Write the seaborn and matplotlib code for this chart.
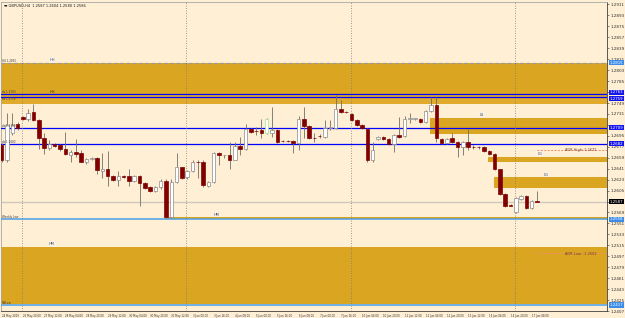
import numpy as np
import matplotlib
matplotlib.use("Agg")
import matplotlib.pyplot as plt
import matplotlib.transforms as mtransforms
from matplotlib.patches import Rectangle
import seaborn as sns

# ---------------- data (GBPUSD, H4) ----------------
opens = [1.26807, 1.26561, 1.27004, 1.27151, 1.27266, 1.27233, 1.27348, 1.27216, 1.26922, 1.26758,
         1.26823, 1.26807, 1.26741, 1.26643, 1.26692, 1.26676, 1.26528, 1.26577, 1.26594, 1.26364,
         1.26397, 1.26282, 1.26217, 1.26282, 1.26282, 1.26200, 1.26282, 1.26168, 1.26102, 1.26036,
         1.26102, 1.26200, 1.25610, 1.26184, 1.26430, 1.26266, 1.26364, 1.26528, 1.26528, 1.26118,
         1.26184, 1.26676, 1.26627, 1.26643, 1.26561, 1.26790, 1.26741, 1.27069, 1.27036, 1.27053,
         1.27004, 1.27004, 1.27053, 1.26872, 1.26872, 1.26872, 1.26840, 1.27233, 1.27118, 1.26922,
         1.26954, 1.26938, 1.27085, 1.27085, 1.27397, 1.27348, 1.27315, 1.27216, 1.27134, 1.27069,
         1.26545, 1.26905, 1.26938, 1.26905, 1.26823, 1.26971, 1.26954, 1.27233, 1.27233, 1.27233,
         1.27184, 1.27364, 1.27463, 1.26905, 1.26840, 1.26922, 1.26856, 1.26774, 1.26856, 1.26774,
         1.26774, 1.26774, 1.26709, 1.26659, 1.26397, 1.25987, 1.25807, 1.25692, 1.25905, 1.25955,
         1.25758, 1.25873]
highs = [1.26840, 1.27331, 1.27331, 1.27184, 1.27282, 1.27397, 1.27479, 1.27233, 1.27004, 1.26889,
         1.26840, 1.26823, 1.27020, 1.26725, 1.26905, 1.26725, 1.26594, 1.26610, 1.26610, 1.26676,
         1.26709, 1.26299, 1.26364, 1.26299, 1.26397, 1.26299, 1.26299, 1.26184, 1.26118, 1.26118,
         1.26233, 1.26233, 1.26233, 1.26676, 1.26446, 1.26381, 1.26545, 1.26561, 1.26561, 1.26200,
         1.26692, 1.26692, 1.26643, 1.26856, 1.26856, 1.26938, 1.27151, 1.27085, 1.27102, 1.27233,
         1.27249, 1.27430, 1.27069, 1.26889, 1.26889, 1.26889, 1.27282, 1.27430, 1.27134, 1.27004,
         1.26987, 1.27216, 1.27216, 1.27626, 1.27544, 1.27364, 1.27331, 1.27233, 1.27151, 1.27085,
         1.26856, 1.26954, 1.26954, 1.26922, 1.26987, 1.27266, 1.27282, 1.27331, 1.27249, 1.27249,
         1.27380, 1.27594, 1.27594, 1.26922, 1.26922, 1.27004, 1.26872, 1.26872, 1.27069, 1.26807,
         1.26790, 1.26790, 1.26725, 1.26676, 1.26413, 1.26004, 1.25823, 1.25938, 1.25971, 1.25971,
         1.25889, 1.26036]
lows = [1.26528, 1.26528, 1.26971, 1.27053, 1.27216, 1.27200, 1.27200, 1.26741, 1.26659, 1.26725,
        1.26774, 1.26709, 1.26643, 1.26528, 1.26610, 1.26512, 1.26495, 1.26561, 1.26315, 1.26250,
        1.26118, 1.26200, 1.26118, 1.26250, 1.26118, 1.26184, 1.25791, 1.26069, 1.26020, 1.26020,
        1.26069, 1.25594, 1.25594, 1.26168, 1.26233, 1.26233, 1.26348, 1.26250, 1.26102, 1.26102,
        1.26168, 1.26463, 1.26594, 1.26413, 1.26545, 1.26627, 1.26725, 1.27004, 1.26971, 1.26922,
        1.26987, 1.26938, 1.26840, 1.26856, 1.26856, 1.26676, 1.26725, 1.26922, 1.26905, 1.26856,
        1.26922, 1.26922, 1.27053, 1.27069, 1.27331, 1.27331, 1.27200, 1.27118, 1.27069, 1.26528,
        1.26528, 1.26889, 1.26889, 1.26807, 1.26692, 1.26922, 1.26938, 1.27167, 1.27216, 1.27167,
        1.27167, 1.27348, 1.26856, 1.26823, 1.26823, 1.26840, 1.26610, 1.26643, 1.26725, 1.26741,
        1.26741, 1.26692, 1.26643, 1.26381, 1.25971, 1.25774, 1.25791, 1.25676, 1.25889, 1.25742,
        1.25742, 1.25856]
closes = [1.26561, 1.27134, 1.27134, 1.27085, 1.27233, 1.27331, 1.27216, 1.26922, 1.26758, 1.26823,
          1.26790, 1.26741, 1.26659, 1.26692, 1.26659, 1.26528, 1.26577, 1.26594, 1.26381, 1.26397,
          1.26282, 1.26217, 1.26282, 1.26266, 1.26200, 1.26282, 1.26168, 1.26086, 1.26036, 1.26102,
          1.26200, 1.25610, 1.26184, 1.26430, 1.26250, 1.26364, 1.26528, 1.26522, 1.26135, 1.26184,
          1.26676, 1.26627, 1.26632, 1.26561, 1.26790, 1.26741, 1.27069, 1.27020, 1.27030, 1.27004,
          1.27233, 1.27053, 1.26856, 1.26866, 1.26866, 1.26840, 1.27233, 1.27118, 1.26922, 1.26916,
          1.26949, 1.27085, 1.27090, 1.27397, 1.27348, 1.27343, 1.27216, 1.27134, 1.27085, 1.26545,
          1.26725, 1.26938, 1.26905, 1.26823, 1.26971, 1.26938, 1.27233, 1.27238, 1.27238, 1.27184,
          1.27364, 1.27463, 1.26922, 1.26840, 1.26905, 1.26856, 1.26774, 1.26856, 1.26774, 1.26769,
          1.26769, 1.26709, 1.26659, 1.26397, 1.25987, 1.25791, 1.25802, 1.25922, 1.25955, 1.25758,
          1.25873, 1.25868]
highlighted_bar = 50

time_labels = ["24 May 2019", "26 May 20:00", "27 May 12:00", "28 May 04:00", "28 May 20:00",
               "29 May 12:00", "30 May 04:00", "30 May 20:00", "31 May 12:00", "3 Jun 00:00",
               "3 Jun 16:00", "4 Jun 08:00", "5 Jun 00:00", "5 Jun 16:00", "6 Jun 08:00",
               "7 Jun 00:00", "7 Jun 16:00", "10 Jun 04:00", "10 Jun 20:00", "11 Jun 12:00",
               "12 Jun 04:00", "12 Jun 20:00", "13 Jun 12:00", "14 Jun 04:00", "14 Jun 20:00",
               "17 Jun 08:00"]
week_breaks = [4, 35, 66, 97]

price_ticks = [1.2911, 1.2893, 1.2875, 1.2857, 1.2839, 1.2821, 1.2803, 1.2785, 1.2767, 1.2749,
               1.2731, 1.2713, 1.2695, 1.2677, 1.2659, 1.2641, 1.2623, 1.2605, 1.2587, 1.2569,
               1.2551, 1.2533, 1.2515, 1.2497, 1.2479, 1.2461, 1.2443, 1.2425, 1.2407]

# supply / demand zones
zone_names = ["HH", "HH", "HM", "HM", "LS", "LG", "LG"]
zone_start = [-0.3, -2.5, -0.3, 30.8, 80.8, 91.7, 92.9]
zone_top = [1.28151, 1.27626, 1.25119, 1.25610, 1.27249, 1.26610, 1.26266]
zone_bottom = [1.27626, 1.27479, 1.24185, 1.25585, 1.26987, 1.26528, 1.26086]

blue_levels = [1.27630, 1.27594, 1.27085, 1.26823]
lightblue_levels = [1.25578, 1.24168]
dashed_level = 1.28151
bid_price = 1.25868
adr_high = 1.2672
adr_low = 1.2502

left_tags = ["H4 1.2815", "ds 1.2763", "ds 1.2759", "ds 1.2709", "ds 1.2682", "Weekly Low", "PWLow"]
left_tag_levels = [1.28151, 1.27630, 1.27594, 1.27085, 1.26823, 1.25578, 1.24168]
left_tag_va = ["bottom", "bottom", "top", "bottom", "bottom", "bottom", "bottom"]

# ---------------- style ----------------
sns.set_style("white")
plt.rcParams['font.family'] = ['DejaVu Sans']
bg = "#FFEFD5"
gold = "#DAA520"
bear = "#800000"

fig = plt.figure(figsize=(6.25, 3.18), dpi=100, facecolor=bg)
ax = fig.add_axes([1 / 625, 7 / 318, 606 / 625, 309 / 318])
ax.set_facecolor(bg)

# zones
for i, name in enumerate(zone_names):
    col = "#E0AB2C" if i == 1 else gold
    ax.add_patch(Rectangle((zone_start[i], zone_bottom[i]), 200, zone_top[i] - zone_bottom[i],
                           facecolor=col, edgecolor="none", zorder=1))
    lab_col = "#3A2A10" if i == 1 else "#4A4A4A"
    ax.annotate(name, (max(zone_start[i], -0.3) + 9.8, zone_top[i]), xytext=(0, 0.6),
                textcoords="offset points", fontsize=2.6, ha="center", va="bottom",
                color=lab_col, zorder=6,
                bbox=None if i == 1 else dict(boxstyle="square,pad=0.15", fc="#F7F1EA", ec="none"))

# horizontal levels
ax.axhline(dashed_level, color="#9A9A9A", lw=0.9, ls=(0, (3, 2)), zorder=3)
for lv in blue_levels:
    ax.axhline(lv, color="#0000FF", lw=0.9, zorder=3)
for lv in lightblue_levels:
    ax.axhline(lv, color="#4C9FE6", lw=1.1, zorder=3)
ax.axhline(bid_price, color="#CFC8BE", lw=1.0, zorder=1.5)

# week separators
for wb in week_breaks:
    ax.axvline(wb - 0.15, color="#7A7A7A", lw=0.6, ls=(0, (1, 2)), zorder=3)

# candles
x = np.arange(len(opens))
o, h, l, c = (np.array(v) for v in (opens, highs, lows, closes))
up = c >= o
ax.vlines(x, l, h, color="#6E6E6E", lw=0.6, zorder=4)
body_h = np.maximum(np.abs(c - o), 0.00003)
edge = np.where(up, "#8A8A8A", bear).astype(object)
edge[highlighted_bar] = "#9BE39B"
face = np.where(up, "#FFFFFF", bear)
ax.bar(x, body_h, bottom=np.minimum(o, c), width=0.66, color=face, edgecolor=list(edge),
       linewidth=0.5, zorder=5)

# ADR levels
ax.hlines([adr_high, adr_low], 101, 130, colors="#F08A6A", lw=0.7, linestyles=(0, (2, 1.5)), zorder=3)
ax.text(112.3, adr_high - 0.00006, f"ADR High: {adr_high:.4f}", fontsize=2.5, ha="right",
        va="center", color="#6A3A2A", zorder=6)
ax.text(112.3, adr_low - 0.00012, f"ADR Low : {adr_low:.4f}", fontsize=2.5, ha="right",
        va="center", color="#6A3A2A", zorder=6)

# left tags
for t, lv, va in zip(left_tags, left_tag_levels, left_tag_va):
    ax.text(0.1, lv, t, fontsize=2.0, ha="left", va=va, color="#3A3A3A", zorder=6)

# header
ax.text(0.005, 0.992, "\u25AC GBPUSD,H4  1.2587 1.2604 1.2580 1.2586", transform=ax.transAxes,
        fontsize=2.6, ha="left", va="top", color="#202020", zorder=7)

# price boxes on the right scale (they cover the scale labels underneath)
boxes = [(dashed_level, "#3C8DEB", "center"), (blue_levels[0], "#1515F0", "bottom"),
         (blue_levels[1], "#1515F0", "top"), (blue_levels[2], "#1515F0", "center"),
         (blue_levels[3], "#1515F0", "center"), (bid_price, "#000000", "center"),
         (lightblue_levels[0], "#3C8DEB", "center"), (lightblue_levels[1], "#3C8DEB", "center")]
box_levels = np.array([b[0] for b in boxes])

# axes
ax.set_xlim(-0.13, 114.2)
ax.set_ylim(1.24086, 1.29151)
ax.set_xticks(x[::4])
ax.set_xticklabels(time_labels, ha="left")
ax.yaxis.tick_right()
ax.set_yticks(price_ticks)
ax.set_yticklabels(["" if np.min(np.abs(box_levels - p)) < 0.00048 else f"{p:.4f}"
                    for p in price_ticks])
ax.tick_params(axis="x", labelsize=1.9, length=1.5, width=0.4, pad=0.8, colors="#303030")
ax.tick_params(axis="y", labelsize=3, length=1.5, width=0.4, pad=0.8, colors="#303030")
for side in ["top", "left"]:
    ax.spines[side].set_color("#A8A8A8")
    ax.spines[side].set_linewidth(0.6)
for side in ["right", "bottom"]:
    ax.spines[side].set_color("#404040")
    ax.spines[side].set_linewidth(0.6)

tr = mtransforms.blended_transform_factory(ax.transAxes, ax.transData)
for lv, col, va in boxes:
    ax.text(1.004, lv, f"{lv:.4f}", transform=tr, fontsize=2.8, ha="left", va=va,
            color="white", clip_on=False, zorder=8,
            bbox=dict(boxstyle="square,pad=0.15", fc=col, ec="none"))

fig.savefig("out.png", dpi=100, facecolor=bg)
